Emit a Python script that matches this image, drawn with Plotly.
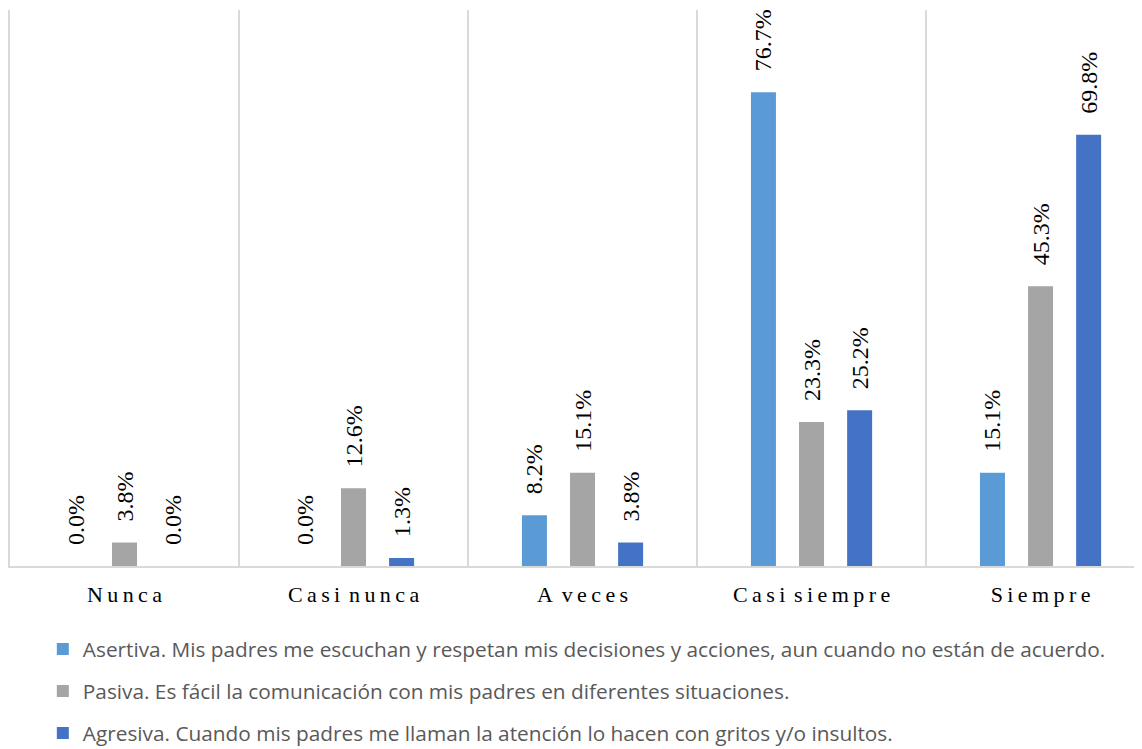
import plotly.graph_objects as go

categories = ["Nunca", "Casi nunca", "A veces", "Casi siempre", "Siempre"]
T = "\u2009"
W = "\u2009\u2009"
tick_labels = [
    T.join("Nunca"),
    T.join("Casi") + W + T.join("nunca"),
    "A" + W + T.join("veces"),
    T.join("Casi") + W + T.join("siempre"),
    T.join("Siempre"),
]
series_names = [
    "Asertiva. Mis padres me escuchan y respetan mis decisiones y acciones, aun cuando no están de acuerdo.",
    "Pasiva. Es fácil la comunicación con mis padres en diferentes situaciones.",
    "Agresiva. Cuando mis padres me llaman la atención lo hacen con gritos y/o insultos.",
]
asertiva = [0.0, 0.0, 8.2, 76.7, 15.1]
pasiva = [3.8, 12.6, 15.1, 23.3, 45.3]
agresiva = [0.0, 1.3, 3.8, 25.2, 69.8]
colors = ["#5B9BD5", "#A5A5A5", "#4472C4"]

SERIF = "Liberation Serif"
label_font = dict(family=SERIF, size=24, color="#000000")

fig = go.Figure()
for i, (name, vals) in enumerate(zip(series_names, [asertiva, pasiva, agresiva])):
    fig.add_trace(go.Bar(
        x=categories, y=vals, name=name, legendgroup=f"g{i}",
        marker=dict(color=colors[i], line=dict(width=0)),
        texttemplate="\u00a0\u00a0\u00a0%{y:.1f}%", textposition="outside",
        textangle=-90, constraintext="none", cliponaxis=False,
        textfont=label_font, outsidetextfont=label_font,
    ))

# page body has an 8px default margin; size the figure so that it fits the window
fig.update_layout(
    width=1134, height=741,
    margin=dict(l=2, r=0, t=2, b=183),
    paper_bgcolor="white", plot_bgcolor="white",
    barmode="group", bargap=0.37, bargroupgap=0.48,
    showlegend=True,
    legend=dict(
        orientation="v", x=0.029, xanchor="left",
        yref="container", y=0.162, yanchor="top",
        font=dict(family="Open Sans", size=20.8, color="#595959"),
        tracegroupgap=12, itemwidth=30,
    ),
    xaxis=dict(
        type="category", range=[-0.5, 4.443], tickson="boundaries",
        showgrid=True, gridcolor="#d9d9d9", gridwidth=1.5,
        showline=True, linecolor="#d9d9d9", linewidth=1.5,
        ticks="", tickvals=categories, ticktext=tick_labels,
        tickfont=dict(family=SERIF, size=22, color="#000000"),
        ticklabelstandoff=8,
        automargin=False,
    ),
    yaxis=dict(
        range=[0, 90], showgrid=False, zeroline=False,
        showticklabels=False, showline=True, linecolor="#d9d9d9", linewidth=1.5,
        automargin=False,
    ),
)

fig.write_html("out.html")
